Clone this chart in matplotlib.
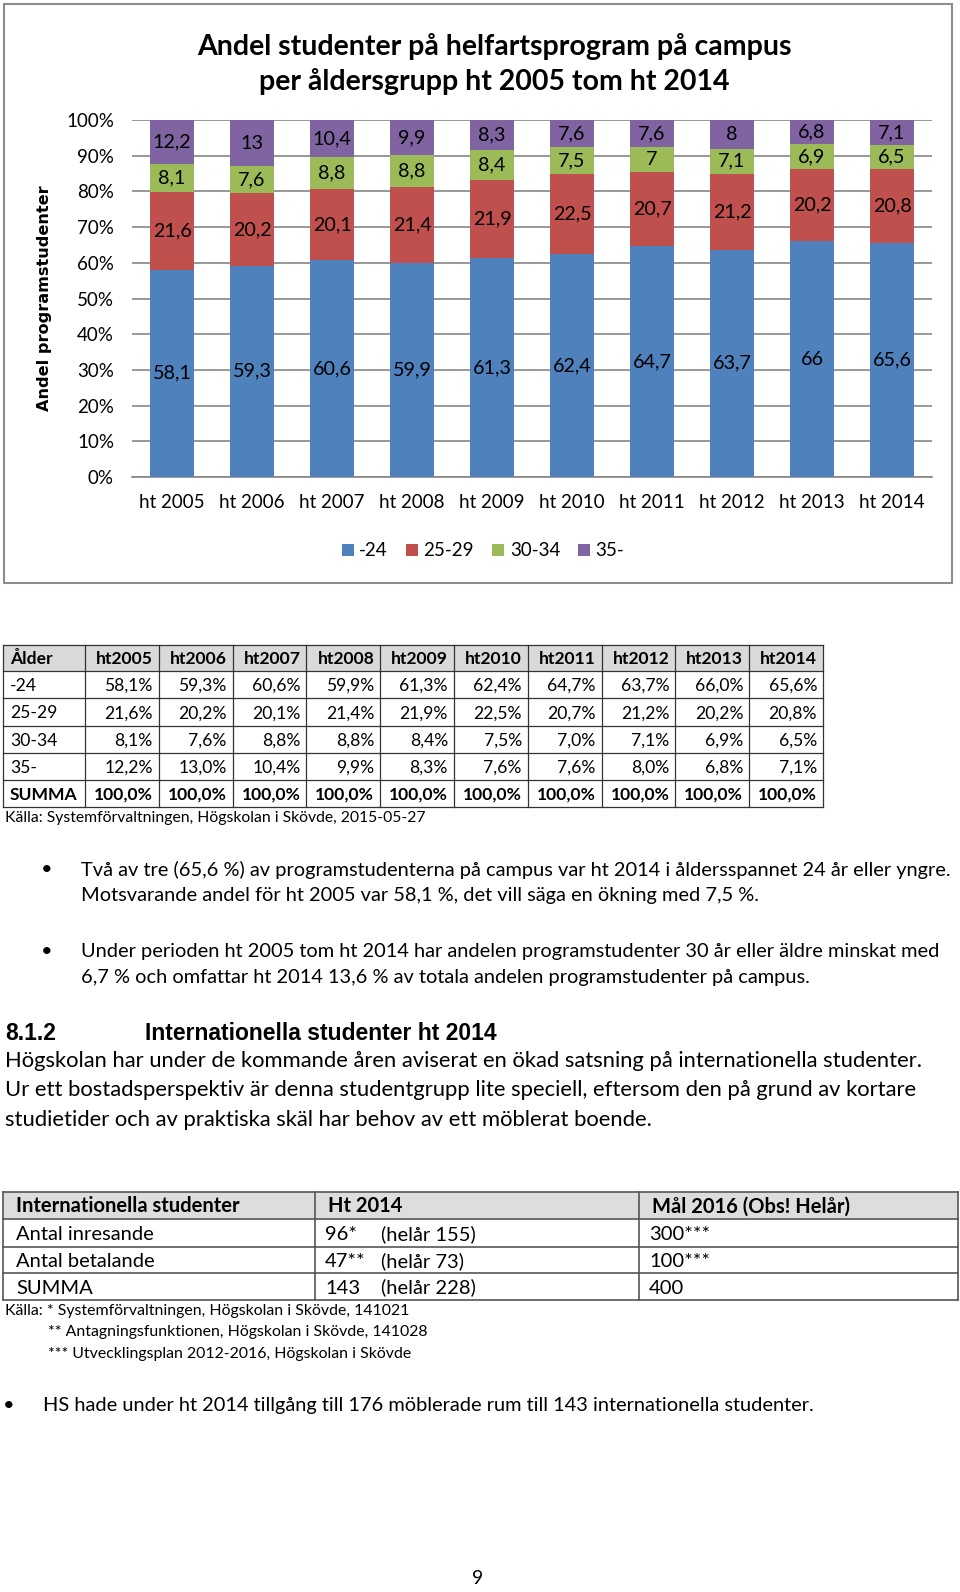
import matplotlib.pyplot as plt
import matplotlib.patches as patches
import numpy as np

plt.rcParams['font.family'] = ['Lato', 'DejaVu Sans']

# chart / table 1 data
years = ['ht 2005', 'ht 2006', 'ht 2007', 'ht 2008', 'ht 2009',
         'ht 2010', 'ht 2011', 'ht 2012', 'ht 2013', 'ht 2014']
groups = ['-24', '25-29', '30-34', '35-']
u24 = [58.1, 59.3, 60.6, 59.9, 61.3, 62.4, 64.7, 63.7, 66.0, 65.6]
a25_29 = [21.6, 20.2, 20.1, 21.4, 21.9, 22.5, 20.7, 21.2, 20.2, 20.8]
a30_34 = [8.1, 7.6, 8.8, 8.8, 8.4, 7.5, 7.0, 7.1, 6.9, 6.5]
a35 = [12.2, 13.0, 10.4, 9.9, 8.3, 7.6, 7.6, 8.0, 6.8, 7.1]
summa = [100.0] * 10
colors = ['#4F81BD', '#C0504D', '#9BBB59', '#8064A2']

# table 2 data
t2_head = ['Internationella studenter', 'Ht 2014', 'Mål 2016 (Obs! Helår)']
t2_rows = ['Antal inresande', 'Antal betalande', 'SUMMA']
t2_ht = ['96*', '47**', '143']
t2_helar = ['(helår 155)', '(helår 73)', '(helår 228)']
t2_goal = ['300***', '100***', '400']

W, H = 960, 1592
fig = plt.figure(figsize=(W / 100, H / 100), dpi=100)

# page layer in pixel coordinates
page = fig.add_axes([0, 0, 1, 1])
page.set_xlim(0, W)
page.set_ylim(H, 0)
page.axis('off')

page.add_patch(patches.Rectangle((4, 4), 948, 579, fill=False,
                                 edgecolor='#8c8c8c', lw=1.5))

# ---- chart ----
ax = fig.add_axes([132 / W, 1 - 477 / H, 800 / W, 357 / H])
series = np.array([u24, a25_29, a30_34, a35])
shares = series / series.sum(axis=0) * 100
x = np.arange(len(years))
bottom = np.zeros(len(years))
for i in range(4):
    bars = ax.bar(x, shares[i], 0.56, bottom=bottom, color=colors[i],
                  label=groups[i], zorder=3)
    labs = [f'{v:g}'.replace('.', ',') for v in series[i]]
    ax.bar_label(bars, labels=labs, label_type='center', fontsize=14.2,
                 color='black')
    bottom += shares[i]

ax.set_xlim(-0.5, 9.5)
ax.set_ylim(0, 100)
ax.set_yticks(range(0, 101, 10))
ax.set_yticklabels([f'{v}%' for v in range(0, 101, 10)])
ax.set_xticks(x)
ax.set_xticklabels(years)
ax.tick_params(length=0, labelsize=13.5)
ax.tick_params(axis='y', pad=13)
ax.tick_params(axis='x', pad=12)
ax.grid(axis='y', color='#868686', lw=1.2, zorder=0)
for s in ['left', 'right', 'top']:
    ax.spines[s].set_visible(False)
ax.spines['bottom'].set_color('#868686')
ax.spines['bottom'].set_linewidth(1.2)

fig.text(494 / W, 1 - 64 / H,
         'Andel studenter på helfartsprogram på campus\nper åldersgrupp ht 2005 tom ht 2014',
         ha='center', va='center', fontsize=20.5, fontweight='bold',
         linespacing=1.4)
fig.text(45 / W, 1 - 298 / H, 'Andel programstudenter', rotation=90,
         ha='center', va='center', fontsize=11.6, fontweight='bold',
         family=['DejaVu Sans'])
fig.legend(loc='center', bbox_to_anchor=(483 / W, 1 - 551 / H), ncol=4,
           frameon=False, fontsize=13.5, handlelength=0.65,
           handleheight=0.65, handletextpad=0.3, columnspacing=0.95)

# ---- table 1 ----
t1_x = [3, 85] + [85 + 73.8 * (k + 1) for k in range(10)]
t1_y = [645, 671, 698, 726, 753, 780, 807]
page.add_patch(patches.Rectangle((t1_x[0], t1_y[0]), t1_x[-1] - t1_x[0],
                                 t1_y[1] - t1_y[0], color='#d9d9d9', lw=0))
for xv in t1_x:
    page.plot([xv, xv], [t1_y[0], t1_y[-1]], color='#333333', lw=0.9)
for yv in t1_y:
    page.plot([t1_x[0], t1_x[-1]], [yv, yv], color='#333333', lw=0.9)

header = ['Ålder'] + [y.replace(' ', '') for y in years]
rows = [header]
for g, vals in zip(groups, series):
    rows.append([g] + [f'{v:.1f}%'.replace('.', ',') for v in vals])
rows.append(['SUMMA'] + [f'{v:.1f}%'.replace('.', ',') for v in summa])
for r, row in enumerate(rows):
    yb = (t1_y[r] + t1_y[r + 1]) / 2 + 6.5
    bold = r in (0, len(rows) - 1)
    for c, txt in enumerate(row):
        if c == 0:
            page.text(t1_x[0] + 7, yb, txt, ha='left', va='baseline',
                      fontsize=12.6, fontweight='bold' if bold else 'normal')
        else:
            page.text(t1_x[c + 1] - 6, yb, txt, ha='right', va='baseline',
                      fontsize=12.6, fontweight='bold' if bold else 'normal')
page.text(5, 818, 'Källa: Systemförvaltningen, Högskolan i Skövde, 2015-05-27',
          ha='left', va='center', fontsize=11.3)

# ---- bullet text ----
body = 14.4
page.text(47, 870, '•', ha='center', va='center', fontsize=body)
page.text(81, 870, 'Två av tre (65,6 %) av programstudenterna på campus var ht 2014 i åldersspannet 24 år eller yngre.',
          ha='left', va='center', fontsize=body)
page.text(81, 896, 'Motsvarande andel för ht 2005 var 58,1 %, det vill säga en ökning med 7,5 %.',
          ha='left', va='center', fontsize=body)
page.text(47, 951, '•', ha='center', va='center', fontsize=body)
page.text(81, 951, 'Under perioden ht 2005 tom ht 2014 har andelen programstudenter 30 år eller äldre minskat med',
          ha='left', va='center', fontsize=body)
page.text(81, 977, '6,7 % och omfattar ht 2014 13,6 % av totala andelen programstudenter på campus.',
          ha='left', va='center', fontsize=body)

page.text(5, 1034, '8.1.2', ha='left', va='center', fontsize=16.5,
          fontweight='bold', family=['Liberation Sans'])
page.text(145, 1034, 'Internationella studenter ht 2014', ha='left',
          va='center', fontsize=16.5, fontweight='bold',
          family=['Liberation Sans'])
para = ['Högskolan har under de kommande åren aviserat en ökad satsning på internationella studenter.',
        'Ur ett bostadsperspektiv är denna studentgrupp lite speciell, eftersom den på grund av kortare',
        'studietider och av praktiska skäl har behov av ett möblerat boende.']
for k, line in enumerate(para):
    page.text(5, 1061 + 29.5 * k, line, ha='left', va='center', fontsize=15.8)

# ---- table 2 ----
t2_x = [3, 315, 639, 958]
t2_y = [1192, 1219, 1247, 1273, 1300]
page.add_patch(patches.Rectangle((t2_x[0], t2_y[0]), t2_x[-1] - t2_x[0],
                                 t2_y[1] - t2_y[0], color='#dddddd', lw=0))
for xv in t2_x:
    page.plot([xv, xv], [t2_y[0], t2_y[-1]], color='#555555', lw=1.2)
for yv in t2_y:
    page.plot([t2_x[0], t2_x[-1]], [yv, yv], color='#555555', lw=1.2)
for c, txt in enumerate(t2_head):
    page.text(t2_x[c] + 13, (t2_y[0] + t2_y[1]) / 2 + 7, txt, ha='left',
              va='baseline', fontsize=14.5, fontweight='bold')
for r in range(3):
    yb = (t2_y[r + 1] + t2_y[r + 2]) / 2 + 7
    page.text(t2_x[0] + 13, yb, t2_rows[r], ha='left', va='baseline', fontsize=14.5)
    page.text(t2_x[1] + 10, yb, t2_ht[r], ha='left', va='baseline', fontsize=14.5)
    page.text(381, yb, t2_helar[r], ha='left', va='baseline', fontsize=14.5)
    page.text(t2_x[2] + 10, yb, t2_goal[r], ha='left', va='baseline', fontsize=14.5)

page.text(5, 1311, 'Källa: * Systemförvaltningen, Högskolan i Skövde, 141021',
          ha='left', va='center', fontsize=11.4)
page.text(48, 1332, '** Antagningsfunktionen, Högskolan i Skövde, 141028',
          ha='left', va='center', fontsize=11.4)
page.text(48, 1354, '*** Utvecklingsplan 2012-2016, Högskolan i Skövde',
          ha='left', va='center', fontsize=11.4)

page.text(9, 1406, '•', ha='center', va='center', fontsize=body)
page.text(43, 1406, 'HS hade under ht 2014 tillgång till 176 möblerade rum till 143 internationella studenter.',
          ha='left', va='center', fontsize=body)

page.text(478, 1579, '9', ha='center', va='center', fontsize=14)

fig.savefig('out.png', dpi=100)
